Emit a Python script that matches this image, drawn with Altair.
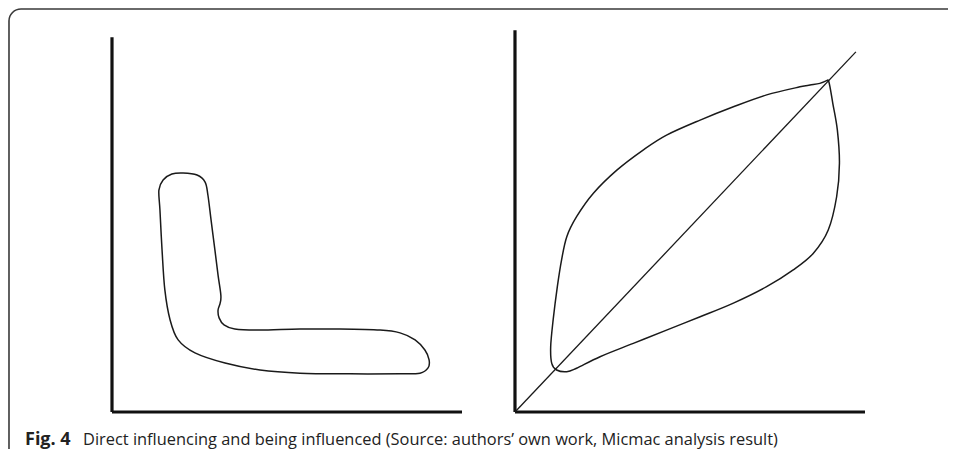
import altair as alt
import pandas as pd

# ---- data (axis units: each panel's axes run 0..10 along x) ----
# Left panel: L-shaped cluster (influence vs dependence)
L_u = [2.03, 2.43, 2.66, 2.74, 2.83, 2.94, 3.03, 3.11, 3.09, 3.03, 3.06, 3.20, 3.51, 4.23,
       5.37, 6.51, 7.66, 8.23, 8.66, 8.94, 9.06, 9.03, 8.80, 8.23, 6.80, 5.37, 4.23, 3.23,
       2.37, 1.89, 1.66, 1.51, 1.43, 1.37, 1.34, 1.46, 1.71]
L_v = [6.83, 6.77, 6.57, 6.20, 5.49, 4.63, 3.91, 3.34, 3.11, 2.91, 2.69, 2.49, 2.37, 2.34,
       2.37, 2.37, 2.34, 2.26, 2.06, 1.77, 1.49, 1.26, 1.11, 1.09, 1.09, 1.11, 1.20, 1.40,
       1.69, 2.06, 2.63, 3.49, 4.63, 5.77, 6.34, 6.63, 6.80]

# Right panel: leaf-shaped cluster around the diagonal
leaf_u = [8.95, 8.71, 8.43, 8.14, 7.19, 6.24, 5.29, 4.33, 3.67, 2.91, 2.24, 1.76, 1.48, 1.33,
          1.21, 1.09, 1.02, 1.05, 1.19, 1.48, 1.76, 2.43, 3.38, 4.33, 5.29, 6.24, 7.19, 7.95,
          8.52, 8.95, 9.19, 9.27, 9.21, 9.08, 9.00, 8.95]
leaf_v = [9.49, 9.39, 9.34, 9.29, 9.06, 8.72, 8.34, 7.91, 7.49, 6.91, 6.25, 5.58, 5.01, 4.34,
          3.58, 2.63, 1.87, 1.39, 1.20, 1.15, 1.25, 1.58, 1.96, 2.34, 2.72, 3.11, 3.58, 4.06,
          4.53, 5.20, 6.15, 7.11, 8.06, 8.82, 9.29, 9.49]

# axes extents (units) for each panel
axis_x_len = [10.0, 10.0]
axis_y_len = [10.71, 10.91]
diag_end = [9.74, 10.29]

caption_bold = "Fig. 4"
caption_text = "Direct influencing and being influenced (Source: authors\u2019 own work, Micmac analysis result)"

PANEL_OFFSET = [0.0, 11.514]

# ---- build tables ----
l_df = pd.DataFrame({"x": L_u, "y": L_v, "o": range(len(L_u))})
leaf_df = pd.DataFrame({"x": [u + PANEL_OFFSET[1] for u in leaf_u], "y": leaf_v,
                        "o": range(len(leaf_u))})

axes_rows = []
for i in range(2):
    off = PANEL_OFFSET[i]
    axes_rows.append({"x": off, "x2": off, "y": 0, "y2": axis_y_len[i]})
    axes_rows.append({"x": off, "x2": off + axis_x_len[i], "y": 0, "y2": 0})
axes_df = pd.DataFrame(axes_rows)

diag_df = pd.DataFrame([{"x": PANEL_OFFSET[1], "x2": PANEL_OFFSET[1] + diag_end[0],
                         "y": 0, "y2": diag_end[1]}])

frame_df = pd.DataFrame([{"x": -2.943, "x2": 26.0, "y": 11.514, "y2": -2.0}])

W, H = 940, 441
xs = alt.Scale(domain=[-104 / 35, (W - 104) / 35], nice=False, zero=False)
ys = alt.Scale(domain=[(404 - H) / 35, 404 / 35], nice=False, zero=False)

frame = alt.Chart(frame_df).mark_rect(
    filled=False, stroke="#3a3a3a", strokeWidth=1.6, cornerRadius=12
).encode(
    x=alt.X("x:Q", scale=xs, axis=None), x2="x2:Q",
    y=alt.Y("y:Q", scale=ys, axis=None), y2="y2:Q",
)

axes = alt.Chart(axes_df).mark_rule(color="#111111", strokeWidth=3.2, strokeCap="butt").encode(
    x=alt.X("x:Q", scale=xs, axis=None), x2="x2:Q",
    y=alt.Y("y:Q", scale=ys, axis=None), y2="y2:Q",
)

diag = alt.Chart(diag_df).mark_rule(color="#1a1a1a", strokeWidth=1.3).encode(
    x=alt.X("x:Q", scale=xs, axis=None), x2="x2:Q",
    y=alt.Y("y:Q", scale=ys, axis=None), y2="y2:Q",
)

lshape = alt.Chart(l_df).mark_line(
    interpolate="cardinal-closed", color="#1a1a1a", strokeWidth=1.5
).encode(
    x=alt.X("x:Q", scale=xs, axis=None),
    y=alt.Y("y:Q", scale=ys, axis=None),
    order="o:Q",
)

leaf = alt.Chart(leaf_df).mark_line(
    interpolate="cardinal", color="#1a1a1a", strokeWidth=1.5
).encode(
    x=alt.X("x:Q", scale=xs, axis=None),
    y=alt.Y("y:Q", scale=ys, axis=None),
    order="o:Q",
)

cap1 = alt.Chart(pd.DataFrame({"t": [caption_bold]})).mark_text(
    font="Open Sans", fontSize=18, fontWeight="bold", align="left", baseline="alphabetic",
    color="#222222"
).encode(text="t:N", x=alt.value(17), y=alt.value(437))

cap2 = alt.Chart(pd.DataFrame({"t": [caption_text]})).mark_text(
    font="Open Sans", fontSize=16.4, align="left", baseline="alphabetic", color="#222222"
).encode(text="t:N", x=alt.value(75), y=alt.value(437))

chart = alt.layer(frame, axes, diag, lshape, leaf, cap1, cap2).properties(
    width=W, height=H, padding=0,
    autosize=alt.AutoSizeParams(type="none"),
    background="white",
).configure_view(strokeWidth=0)

chart.save("out.html", embed_options={"renderer": "svg", "actions": False})
